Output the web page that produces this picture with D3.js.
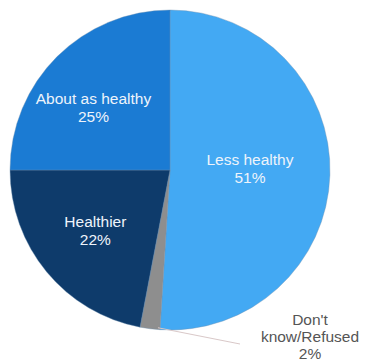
<!DOCTYPE html>
<html>
<head>
<meta charset="utf-8">
<script src="https://cdn.jsdelivr.net/npm/d3@7"></script>
<style>
  html, body { margin: 0; padding: 0; background: #ffffff; }
  svg { display: block; font-family: "Liberation Sans", Arial, sans-serif; }
</style>
</head>
<body>
<svg id="chart" width="365" height="362"></svg>
<script>
// Survey answers, clockwise from 12 o'clock
const categories = ["Less healthy", "Don't know/Refused", "Healthier", "About as healthy"];
const percents = [51, 2, 22, 25];
const labelLines = [["Less healthy"], ["Don't", "know/Refused"], ["Healthier"], ["About as healthy"]];
const sliceColors = ["#43a9f3", "#8e8e8e", "#0e3b6b", "#1b7bd3"];

const width = 365, height = 362;
const cx = 170, cy = 170, radius = 160;

const data = categories.map((c, i) => ({ name: c, value: percents[i], lines: labelLines[i], color: sliceColors[i] }));

const svg = d3.select("#chart");
const g = svg.append("g").attr("transform", `translate(${cx},${cy})`);

const pie = d3.pie().sort(null).value(d => d.value);
const arcs = pie(data);
const arc = d3.arc().innerRadius(0).outerRadius(radius);

g.selectAll("path.slice")
  .data(arcs)
  .join("path")
  .attr("class", "slice")
  .attr("d", arc)
  .attr("fill", d => d.data.color)
  .attr("stroke", "#6d8fb0")
  .attr("stroke-width", 0.4);

// inside labels: centroid of a label ring, with a small best-fit nudge
const labelArc = d3.arc().innerRadius(radius * 0.5).outerRadius(radius * 0.5);
const nudge = {
  "Less healthy": [0, -4],
  "Healthier": [-13, 10],
  "About as healthy": [-20, -6]
};
const lineH = 18;

arcs.filter(d => d.data.name !== "Don't know/Refused").forEach(d => {
  const [x, y] = labelArc.centroid(d);
  const [nx, ny] = nudge[d.data.name] || [0, 0];
  const lines = d.data.lines.concat([d.data.value + "%"]);
  const t = g.append("text")
    .attr("text-anchor", "middle")
    .attr("font-size", 15.5)
    .attr("fill", "#eef4fb");
  lines.forEach((s, i) => {
    t.append("tspan")
      .attr("x", x + nx)
      .attr("y", y + ny + (i - (lines.length - 1) / 2) * lineH + 5.5)
      .text(s);
  });
});

// outside label with leader line for the thin slice
const small = arcs.find(d => d.data.name === "Don't know/Refused");
const edge = d3.arc().innerRadius(radius).outerRadius(radius).centroid(small);
const labelPos = [140, 167];
g.append("line")
  .attr("x1", edge[0] + 8).attr("y1", edge[1] - 1)
  .attr("x2", labelPos[0] - 70).attr("y2", labelPos[1] + 7)
  .attr("stroke", "#d9c8c8")
  .attr("stroke-width", 1);

const outLines = small.data.lines.concat([small.data.value + "%"]);
const ot = g.append("text")
  .attr("text-anchor", "middle")
  .attr("font-size", 15.5)
  .attr("fill", "#555555");
outLines.forEach((s, i) => {
  ot.append("tspan")
    .attr("x", labelPos[0])
    .attr("y", labelPos[1] + (i - 1) * 17 + 5)
    .text(s);
});
</script>
</body>
</html>
